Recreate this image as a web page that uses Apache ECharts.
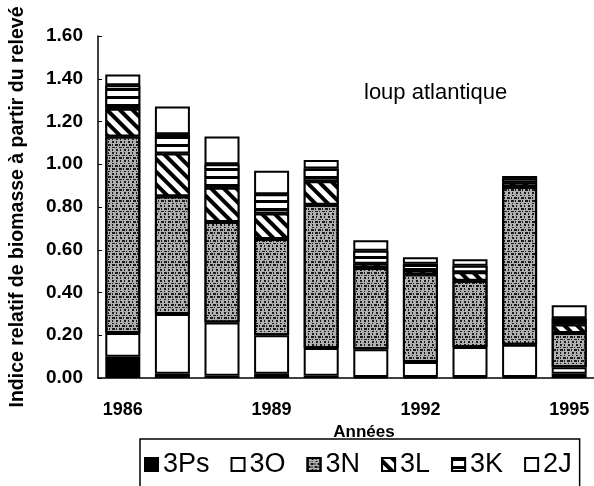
<!DOCTYPE html>
<html>
<head>
<meta charset="utf-8">
<script src="https://cdn.jsdelivr.net/npm/echarts@6/dist/echarts.min.js"></script>
<style>
html,body{margin:0;padding:0;background:#fff;}
#c{width:594px;height:486px;}
</style>
</head>
<body>
<div id="c"></div>
<script>
var years = ['1986','1987','1988','1989','1990','1991','1992','1993','1994','1995'];
var s3Ps = [0.10, 0.02, 0.01, 0.02, 0.01, 0.005, 0.005, 0.005, 0.005, 0.02];
var s3O  = [0.11, 0.28, 0.25, 0.18, 0.13, 0.13, 0.07, 0.14, 0.15, 0.03];
var s3N  = [0.92, 0.55, 0.47, 0.45, 0.67, 0.38, 0.41, 0.31, 0.74, 0.16];
var s3L  = [0.13, 0.20, 0.16, 0.12, 0.11, 0.02, 0.02, 0.04, 0.02, 0.04];
var s3K  = [0.11, 0.09, 0.11, 0.09, 0.06, 0.06, 0.03, 0.03, 0.02, 0.03];
var s2J  = [0.05, 0.13, 0.13, 0.11, 0.04, 0.05, 0.03, 0.03, 0.01, 0.06];
var yTicks = [0, 0.2, 0.4, 0.6, 0.8, 1.0, 1.2, 1.4, 1.6];

var FONT = "'Liberation Sans', Arial, Helvetica, sans-serif";
var chart = echarts.init(document.getElementById('c'), null, {renderer:'canvas'});

function mk(name, data, style){
  return {
    name: name, type: 'bar', stack: 'total', data: data,
    barWidth: 35,
    itemStyle: Object.assign({borderColor:'#000', borderWidth:2}, style),
    emphasis: {disabled: true}
  };
}

var option = {
  animation: false,
  backgroundColor: '#fff',
  title: {
    text: 'loup atlantique', left: 359, top: 77,
    textStyle: {fontFamily: FONT, fontSize: 22, fontWeight: 'normal', color: '#000'}
  },
  grid: {left: 97, top: 36, width: 500, bottom: 108},
  legend: {
    left: 140, top: 439,
    padding: [12, 8, 40, 4],
    borderColor: '#000', borderWidth: 1.5,
    itemWidth: 13, itemHeight: 13, itemGap: 21,
    icon: 'rect',
    textStyle: {fontFamily: FONT, fontSize: 27, color: '#000'},
    data: ['3Ps','3O','3N','3L','3K','2J']
  },
  xAxis: {
    type: 'category', data: years,
    name: 'Années', nameLocation: 'middle', nameGap: 40,
    nameTextStyle: {fontFamily: FONT, fontSize: 17, fontWeight: 'bold', color: '#000', padding: [0,0,0,36]},
    axisLine: {lineStyle: {color: '#000', width: 1.5}},
    axisTick: {inside: true, length: 5, lineStyle: {color: '#000'}, interval: 0},
    axisLabel: {interval: 2, margin: 23, fontFamily: FONT, fontSize: 18, fontWeight: 'bold', color: '#000'}
  },
  yAxis: {
    type: 'value', min: 0, max: 1.6, interval: 0.2,
    name: 'Indice relatif de biomasse à partir du relevé',
    nameLocation: 'middle', nameRotate: 90, nameGap: 70,
    nameTextStyle: {fontFamily: FONT, fontSize: 19.5, fontWeight: 'bold', color: '#000'},
    axisLine: {show: true, lineStyle: {color: '#000', width: 1.5}},
    axisTick: {show: true, inside: true, length: 4, lineStyle: {color: '#000'}},
    splitLine: {show: false},
    axisLabel: {margin: 15, fontFamily: FONT, fontSize: 19, fontWeight: 'bold', color: '#000',
      formatter: function(v){ return v.toFixed(2); }}
  },
  series: [
    mk('3Ps', s3Ps, {color: '#000'}),
    mk('3O', s3O, {color: '#fff'}),
    mk('3N', s3N, {color: '#b0b0b0', decal: {
      symbol: 'rect', symbolSize: 1, color: '#1a1a1a',
      dashArrayX: [[2,2,1,3],[1,2,3,1],[3,1,1,2],[1,3,2,2]], dashArrayY: [2,1,1,1,2,1]
    }}),
    mk('3L', s3L, {color: '#fff', decal: {
      symbol: 'rect', symbolSize: 1, color: '#000', backgroundColor: '#fff',
      dashArrayX: [1, 0], dashArrayY: [4, 5], rotation: Math.PI/4
    }}),
    mk('3K', s3K, {color: '#fff', decal: {
      symbol: 'rect', symbolSize: 1, color: '#000', backgroundColor: '#fff',
      dashArrayX: [1, 0], dashArrayY: [3, 5], rotation: 0
    }}),
    mk('2J', s2J, {color: '#fff'})
  ]
};
chart.setOption(option);
</script>
</body>
</html>
